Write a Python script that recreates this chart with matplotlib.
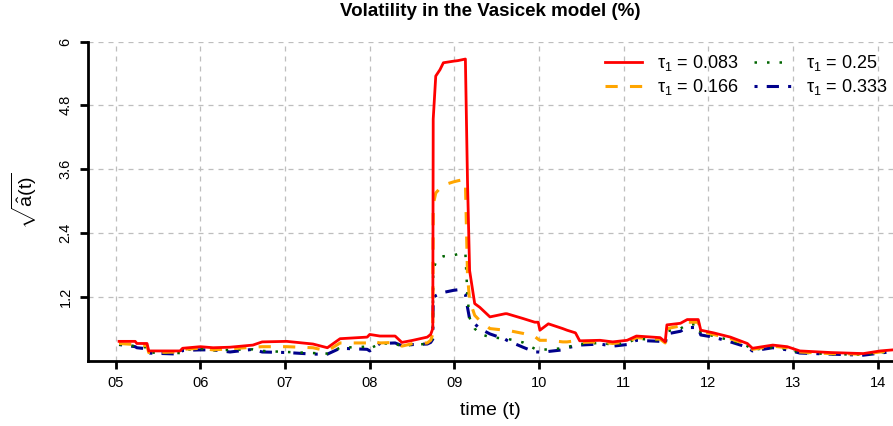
import matplotlib
matplotlib.use("Agg")
import matplotlib.pyplot as plt
import numpy as np

plt.rcParams['font.family'] = ['Liberation Sans', 'DejaVu Sans']
plt.rcParams['mathtext.fontset'] = 'custom'
plt.rcParams['mathtext.rm'] = 'Liberation Sans'
plt.rcParams['mathtext.it'] = 'Liberation Sans:italic'
plt.rcParams['mathtext.bf'] = 'Liberation Sans:bold'

# time in years (5 = 2005)
time = [5.04, 5.23, 5.25, 5.37, 5.39, 5.76, 5.79, 6.00, 6.15, 6.35, 6.62, 6.73,
        7.02, 7.33, 7.50, 7.65, 7.97, 8.00, 8.12, 8.30, 8.38, 8.51, 8.68, 8.72,
        8.745, 8.75, 8.78, 8.83, 8.87, 8.99, 9.04, 9.10, 9.13, 9.155, 9.18, 9.24,
        9.30, 9.42, 9.60, 9.62, 9.81, 9.95, 9.99, 10.01, 10.11, 10.28, 10.33, 10.43,
        10.48, 10.72, 10.87, 11.04, 11.15, 11.43, 11.49, 11.51, 11.67, 11.75, 11.88,
        11.91, 12.06, 12.26, 12.46, 12.52, 12.76, 12.93, 13.08, 13.44, 13.83, 14.03, 14.18]

vol_083 = [0.36, 0.36, 0.32, 0.32, 0.18, 0.18, 0.23, 0.26, 0.24, 0.25, 0.29, 0.35,
           0.36, 0.31, 0.24, 0.41, 0.44, 0.49, 0.46, 0.46, 0.34, 0.38, 0.44, 0.49,
           0.60, 4.54, 5.35, 5.47, 5.60, 5.63, 5.64, 5.66, 5.67, 3.36, 1.69, 1.07,
           1.00, 0.82, 0.88, 0.88, 0.79, 0.72, 0.72, 0.57, 0.69, 0.60, 0.57, 0.52,
           0.37, 0.38, 0.35, 0.38, 0.46, 0.43, 0.35, 0.67, 0.70, 0.77, 0.77,
           0.57, 0.52, 0.44, 0.32, 0.23, 0.29, 0.26, 0.18, 0.15, 0.13, 0.18, 0.20]

vol_166 = [0.32, 0.30, 0.28, 0.28, 0.15, 0.16, 0.21, 0.23, 0.20, 0.22, 0.25, 0.26,
           0.26, 0.24, 0.18, 0.33, 0.33, 0.37, 0.33, 0.34, 0.27, 0.32, 0.33, 0.38,
           0.50, 2.93, 3.15, 3.24, 3.30, 3.36, 3.38, 3.40, 3.38, 1.60, 1.13, 0.85,
           0.75, 0.60, 0.57, 0.57, 0.51, 0.45, 0.40, 0.38, 0.38, 0.35, 0.35, 0.37,
           0.34, 0.35, 0.32, 0.35, 0.43, 0.40, 0.33, 0.60, 0.65, 0.72, 0.72,
           0.55, 0.49, 0.41, 0.30, 0.21, 0.27, 0.24, 0.16, 0.13, 0.12, 0.16, 0.19]

vol_25 = [0.30, 0.27, 0.25, 0.25, 0.15, 0.14, 0.20, 0.22, 0.19, 0.20, 0.21, 0.18,
          0.16, 0.14, 0.13, 0.24, 0.26, 0.22, 0.32, 0.32, 0.26, 0.30, 0.31, 0.33,
          0.45, 1.69, 1.85, 1.93, 1.96, 1.98, 2.00, 2.03, 2.02, 1.19, 0.80, 0.60,
          0.50, 0.44, 0.41, 0.41, 0.34, 0.22, 0.20, 0.20, 0.21, 0.23, 0.25, 0.29,
          0.31, 0.33, 0.30, 0.33, 0.41, 0.38, 0.32, 0.55, 0.60, 0.68, 0.68,
          0.52, 0.46, 0.38, 0.27, 0.20, 0.25, 0.22, 0.15, 0.12, 0.11, 0.15, 0.18]

vol_333 = [0.30, 0.26, 0.24, 0.22, 0.14, 0.12, 0.19, 0.20, 0.20, 0.16, 0.21, 0.16,
           0.15, 0.12, 0.12, 0.23, 0.21, 0.18, 0.32, 0.33, 0.28, 0.30, 0.31, 0.34,
           0.40, 1.19, 1.22, 1.26, 1.28, 1.32, 1.33, 1.30, 1.25, 1.00, 0.78, 0.69,
           0.60, 0.50, 0.40, 0.38, 0.25, 0.16, 0.16, 0.16, 0.17, 0.20, 0.24, 0.27,
           0.29, 0.31, 0.27, 0.30, 0.38, 0.36, 0.30, 0.50, 0.55, 0.62, 0.62,
           0.48, 0.44, 0.35, 0.25, 0.18, 0.24, 0.20, 0.14, 0.12, 0.10, 0.14, 0.17]

labels = [r'$\mathregular{\tau_1}$ = 0.083', r'$\mathregular{\tau_1}$ = 0.166',
          r'$\mathregular{\tau_1}$ = 0.25', r'$\mathregular{\tau_1}$ = 0.333']

xticks = [5, 6, 7, 8, 9, 10, 11, 12, 13, 14]
xticklabels = ['05', '06', '07', '08', '09', '10', '11', '12', '13', '14']
yticks = [1.2, 2.4, 3.6, 4.8, 6]
yticklabels = ['1.2', '2.4', '3.6', '4.8', '6']

fig = plt.figure(figsize=(8.93, 4.26), dpi=100)
ax = fig.add_axes([88/893, 1 - 360.5/426, 1 - 88/893, (360.5 - 41.5)/426])

ax.plot(time, vol_083, color='#FF0000', lw=2.0, label=labels[0], zorder=5)
ax.plot(time, vol_166, color='#FFA500', lw=2.2, ls=(0, (4, 4)), label=labels[1], zorder=4)
ax.plot(time, vol_25, color='#006400', lw=1.8, ls=(0, (1, 4)), label=labels[2], zorder=3)
ax.plot(time, vol_333, color='#00008B', lw=2.2, ls=(0, (1, 3, 4, 3)), label=labels[3], zorder=2)

ax.set_xlim(5 - 27.7/84.67, 5 + (893 - 115.7)/84.67)
ax.set_ylim(0, 6)
ax.set_xticks(xticks)
ax.set_xticklabels(xticklabels, fontsize=10.5)
ax.set_yticks(yticks)
ax.set_yticklabels(yticklabels, fontsize=10.5, rotation=90, va='center')

ax.grid(True, color='#BEBEBE', ls=(0, (4, 4)), lw=0.9)
ax.set_axisbelow(True)
for s in ['top', 'right']:
    ax.spines[s].set_visible(False)
for s in ['left', 'bottom']:
    ax.spines[s].set_linewidth(2)
ax.tick_params(axis='both', width=2, length=6, pad=5)

ax.set_title('Volatility in the Vasicek model (%)', fontsize=13.5, fontweight='bold', pad=18)
ax.set_xlabel('time (t)', fontsize=14, labelpad=9)
ax.set_ylabel(r'$\sqrt{\mathrm{\hat{a}(t)}}$', fontsize=14, labelpad=14)

leg = ax.legend(ncol=2, loc='upper right', bbox_to_anchor=(1.0, 0.98), frameon=False,
                fontsize=13, handlelength=2.05, columnspacing=0.83, handletextpad=0.83,
                labelspacing=0.2, borderaxespad=0.1, borderpad=0.2)

fig.savefig('out.png', dpi=100)
